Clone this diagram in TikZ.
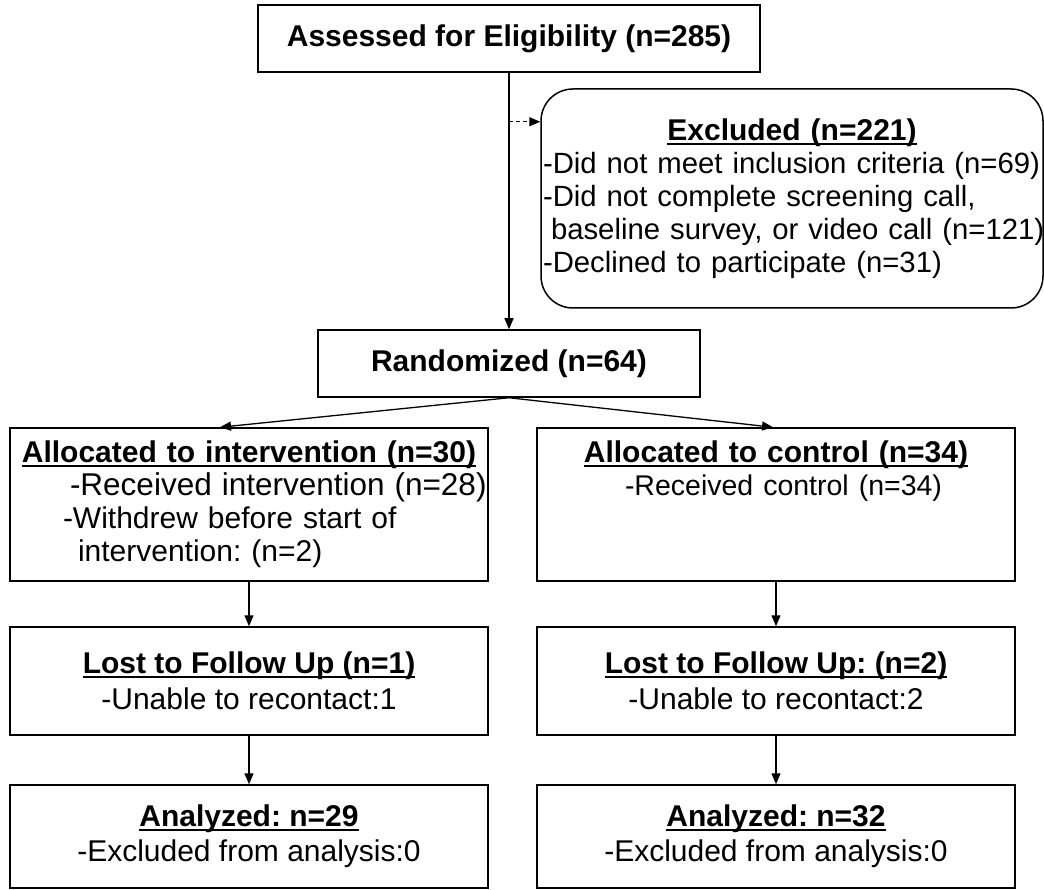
\documentclass[tikz,border=0pt]{standalone}
\usepackage{fontspec}
\setmainfont{Liberation Sans}
\usetikzlibrary{positioning, arrows.meta}
\frenchspacing

\newsavebox{\flowulbox}
\newcommand{\flowul}[1]{\sbox{\flowulbox}{#1}\rlap{\rule[-4.5pt]{\wd\flowulbox}{1.8pt}}\usebox{\flowulbox}}
\newcommand{\flowtitle}[1]{\makebox[\hsize][c]{\flowul{\textbf{#1}}}}
\newcommand{\flowline}[3][30]{\makebox[\hsize][l]{\fontsize{#1}{33}\selectfont\hspace*{#2}#3}}

\begin{document}
\begin{tikzpicture}[x=1pt, y=-1pt, font=\fontsize{30}{33}\selectfont,
    box/.style={draw, line width=1.5pt, inner sep=0pt, align=center},
    arrow/.style={-{Triangle[length=11pt, width=9pt]}, line width=1.3pt}]
    \useasboundingbox (0,0) rectangle (1044,890);

    % Define nodes
    \node [box, minimum width=502, minimum height=67] (assess) at (509,38.5) {\textbf{Assessed for Eligibility (n=285)}};
    \node [box, rounded corners=32pt, minimum width=502, minimum height=219, text width=498, align=left] (excl) at (792,198.5)
        {\flowtitle{Excluded (n=221)}\\
         \flowline[29.3]{0pt}{-Did not meet inclusion criteria (n=69)}\\
         \flowline[29.3]{0pt}{-Did not complete screening call,}\\
         \flowline[29.3]{8pt}{baseline survey, or video call (n=121)}\\
         \flowline[29.3]{0pt}{-Declined to participate (n=31)}};
    \node [box, minimum width=382, minimum height=67] (rand) at (509,363.5) {\textbf{Randomized (n=64)}};

    % Two arms
    \node [box, minimum width=478, minimum height=153, text width=478, align=left] (alloci) at (249,504.5)
        {\flowtitle{Allocated to intervention (n=30)}\\
         \flowline[31.5]{60pt}{-Received intervention (n=28)}\\
         \flowline{53pt}{-Withdrew before start of}\\
         \flowline{68pt}{intervention: (n=2)}};
    \node [box, minimum width=478, minimum height=153, text width=478, align=left] (allocc) at (776,504.5)
        {\flowtitle{Allocated to control (n=34)}\\
         \flowline[28.5]{88pt}{-Received control (n=34)}\\
         \vphantom{(}\\
         \vphantom{(}};
    \node [box, minimum width=478, minimum height=108, font=\fontsize{30}{36}\selectfont] (losti) at (249,681)
        {\flowul{\textbf{Lost to Follow Up (n=1)}}\\-Unable to recontact:1};
    \node [box, minimum width=478, minimum height=108, font=\fontsize{30}{36}\selectfont] (lostc) at (776,681)
        {\flowul{\textbf{Lost to Follow Up: (n=2)}}\\-Unable to recontact:2};
    \node [box, minimum width=478, minimum height=103, font=\fontsize{30}{35}\selectfont] (anali) at (249,836.5)
        {\flowul{\textbf{Analyzed: n=29}}\\-Excluded from analysis:0};
    \node [box, minimum width=478, minimum height=103, font=\fontsize{30}{35}\selectfont] (analc) at (776,836.5)
        {\flowul{\textbf{Analyzed: n=32}}\\-Excluded from analysis:0};

    % Arrows
    \coordinate (branch) at ([yshift=-49pt]assess.south);
    \draw [arrow] (assess) -- (rand);
    \draw [arrow, dash pattern=on 4pt off 3pt] (branch) -- (branch -| excl.west);
    \draw [arrow] (rand.south) -- ([xshift=-29pt]alloci.north);
    \draw [arrow] (rand.south) -- ([xshift=-3pt]allocc.north);
    \foreach \from/\to in {alloci/losti, allocc/lostc, losti/anali, lostc/analc}
        \draw [arrow] (\from) -- (\to);
\end{tikzpicture}
\end{document}
